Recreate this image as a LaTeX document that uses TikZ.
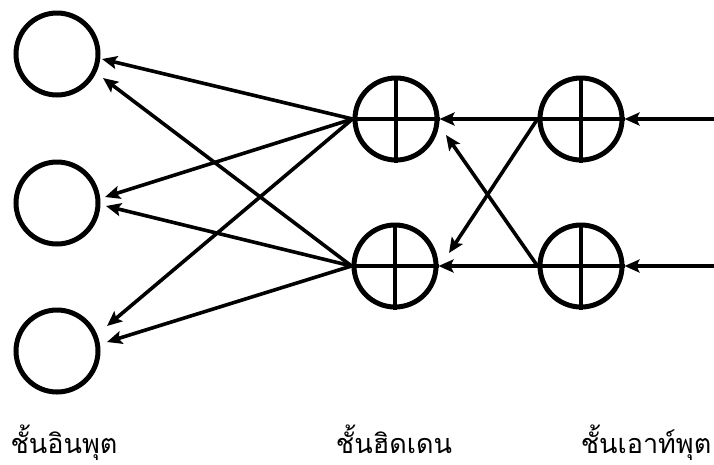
\documentclass[tikz,border=0pt]{standalone}
\usepackage{fontspec}
\newfontfamily\thaifont[Script=Thai]{Loma}
\usetikzlibrary{arrows.meta}
\begin{document}
\begin{tikzpicture}[x=1pt,y=-1pt,
  neuron/.style={circle,draw,line width=5pt,minimum size=82pt,inner sep=0pt},
  arr/.style={line width=3.6pt,-{Stealth[length=15pt,width=13pt,inset=3pt]}},
  crossln/.style={line width=3.6pt},
  lbl/.style={anchor=base,font=\thaifont\fontsize{27}{33}\selectfont,inner sep=0pt}]
\useasboundingbox (0,0) rectangle (714,464);
% nodes
\node[neuron] (i1) at (57,54) {};
\node[neuron] (i2) at (57,203) {};
\node[neuron] (i3) at (57,351) {};
\node[neuron] (h1) at (396,119) {};
\node[neuron] (h2) at (395,266) {};
\node[neuron] (o1) at (581,119) {};
\node[neuron] (o2) at (581,266) {};
% crosses
\foreach \n in {h1,h2,o1,o2}{
  \draw[crossln] (\n.north) -- (\n.south);
  \draw[crossln] (\n.west) -- (\n.east);
}
% external inputs
\coordinate (e1) at (714,119);
\coordinate (e2) at (714,266);
\draw[arr] (e1) -- (o1.east);
\draw[arr] (e2) -- (o2.east);
% output -> hidden
\draw[arr] (o1.west) -- (h1.east);
\draw[arr] (o2.west) -- (h2.east);
\draw[arr] (o2.west) -- ([shift={(50,16)}]h1.center);
\draw[arr] (o1.west) -- ([shift={(54,-13)}]h2.center);
% hidden -> input
\draw[arr] (h1.west) -- ([shift={(45,5)}]i1.center);
\draw[arr] (h2.west) -- ([shift={(46,24)}]i1.center);
\draw[arr] (h1.west) -- ([shift={(48,-6)}]i2.center);
\draw[arr] (h2.west) -- ([shift={(49,3)}]i2.center);
\draw[arr] (h1.west) -- ([shift={(50,-25)}]i3.center);
\draw[arr] (h2.west) -- ([shift={(50,-9)}]i3.center);
% labels
\node[lbl] (l1) at (64,453) {ชั้นอินพุต};
\node[lbl] (l2) at (394,453) {ชั้นฮิดเดน};
\node[lbl] (l3) at (646,453) {ชั้นเอาท์พุต};
\end{tikzpicture}
\end{document}
